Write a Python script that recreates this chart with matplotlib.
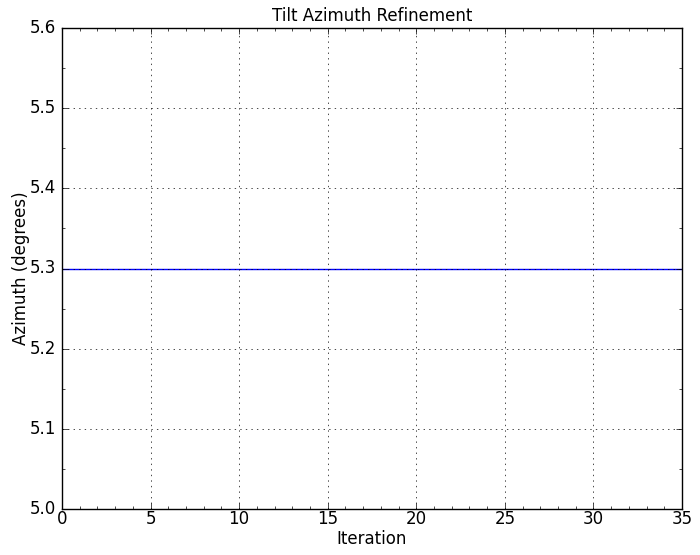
import matplotlib
matplotlib.use("Agg")
import matplotlib.pyplot as plt
from matplotlib.ticker import MultipleLocator

plt.style.use('classic')

iterations = list(range(0, 36))
azimuth = [5.3] * len(iterations)

fig = plt.figure(figsize=(7.0, 5.55), dpi=100, facecolor='white')
ax = fig.add_axes([62/700, 1-509/555, (682-62)/700, (509-28)/555])
ax.plot(iterations, azimuth, color='b', linewidth=1)
ax.set_xlim(0, 35)
ax.set_ylim(5.0, 5.6)
ax.xaxis.set_major_locator(MultipleLocator(5))
ax.xaxis.set_minor_locator(MultipleLocator(1))
ax.yaxis.set_major_locator(MultipleLocator(0.1))
ax.yaxis.set_minor_locator(MultipleLocator(0.05))
ax.tick_params(axis='x', which='both', pad=1)
ax.grid(True)
ax.set_title('Tilt Azimuth Refinement', fontsize=12)
ax.set_xlabel('Iteration', fontsize=12, labelpad=1)
ax.set_ylabel('Azimuth (degrees)', fontsize=12, labelpad=0)
fig.savefig('out.png', dpi=100, facecolor='white')
